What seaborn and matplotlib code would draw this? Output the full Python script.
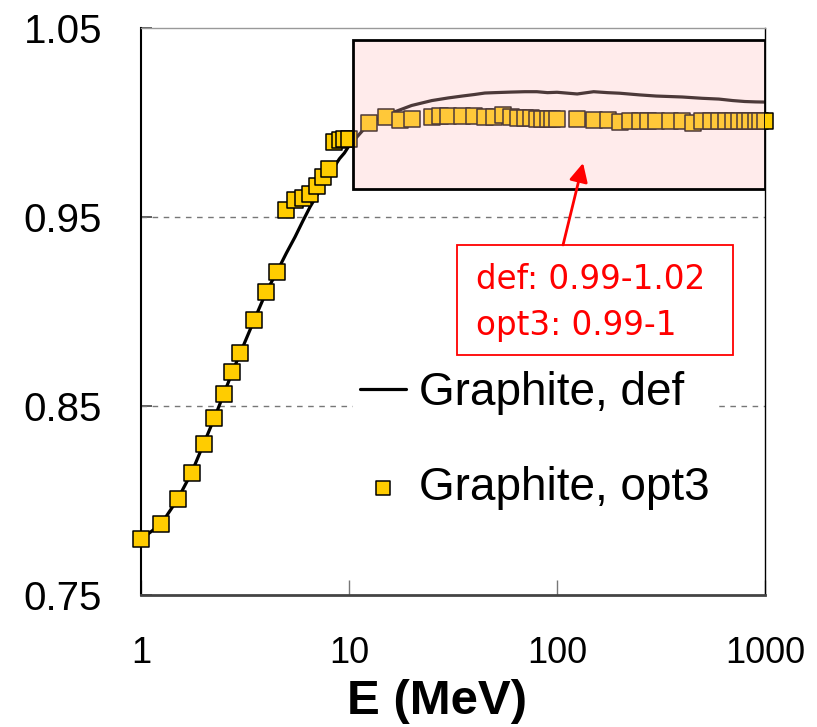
import matplotlib
matplotlib.use("Agg")
import matplotlib.pyplot as plt
import pandas as pd
import seaborn as sns
from matplotlib.patches import Rectangle
from matplotlib.ticker import FixedLocator, FixedFormatter, NullLocator

sns.set_style("white")
plt.rcParams["font.family"] = ["Liberation Sans", "DejaVu Sans"]
plt.rcParams["text.color"] = "black"
plt.rcParams["axes.labelcolor"] = "black"

# Graphite, default physics list: ratio vs. beam energy (MeV)
energy_def = [1, 1.25, 1.5, 1.75, 2, 2.25, 2.5, 2.75, 3, 3.5, 4, 4.5, 5, 5.5, 6,
              6.5, 7, 7.5, 8, 8.5, 9, 9.5, 10, 12.5, 15, 17.5, 20, 25, 30, 35,
              40, 45, 50, 60, 70, 80, 90, 100, 125, 150, 175, 200, 250, 300,
              400, 500, 600, 700, 800, 900, 1000]
ratio_def = [0.7793, 0.7874, 0.8005, 0.8146, 0.8298, 0.8434, 0.8563, 0.868,
             0.878, 0.8955, 0.9104, 0.921, 0.931, 0.9395, 0.948, 0.9555,
             0.9615, 0.967, 0.972, 0.9768, 0.981, 0.984, 0.9878, 0.9998,
             1.004, 1.0068, 1.0092, 1.0118, 1.0132, 1.0142, 1.015, 1.0158,
             1.016, 1.0163, 1.0165, 1.0165, 1.016, 1.0162, 1.0153, 1.0165,
             1.016, 1.0157, 1.0148, 1.0142, 1.0137, 1.013, 1.0126, 1.0118,
             1.0113, 1.0111, 1.011]

# Graphite, opt3 physics list
energy_opt3 = [1, 1.25, 1.5, 1.75, 2, 2.25, 2.5, 2.75, 3, 3.5, 4, 4.5, 5, 5.5,
               6, 6.5, 7, 7.5, 8, 8.5, 9, 9.5, 10, 12.5, 15, 17.5, 20, 25,
               27.5, 30, 35, 40, 45, 50, 55, 60, 65, 70, 75, 80, 85, 90, 95,
               100, 125, 150, 175, 200, 225, 250, 275, 300, 350, 400, 450,
               500, 550, 600, 650, 700, 750, 800, 850, 900, 950, 1000]
ratio_opt3 = [0.7793, 0.7874, 0.8005, 0.8146, 0.8298, 0.8434, 0.8563, 0.868,
              0.878, 0.8955, 0.9104, 0.921, 0.9538, 0.9591, 0.96, 0.9625,
              0.9667, 0.9711, 0.9753, 0.99, 0.9909, 0.9913, 0.9913, 0.9998,
              1.0033, 1.0014, 1.0022, 1.0029, 1.0036, 1.0038, 1.0038, 1.0036,
              1.0031, 1.0031, 1.004, 1.0031, 1.0028, 1.0028, 1.0023, 1.002,
              1.002, 1.002, 1.002, 1.002, 1.0019, 1.0017, 1.0017, 1.0006,
              1.001, 1.001, 1.0011, 1.0011, 1.0011, 1.0011, 0.9998, 1.001,
              1.0011, 1.0008, 1.0008, 1.0008, 1.0008, 1.0008, 1.0008, 1.0008,
              1.0008, 1.0008]

y_ticks = [0.75, 0.85, 0.95, 1.05]
y_minor = [0.80, 0.90, 1.00]
x_ticks = [1, 10, 100, 1000]

df_def = pd.DataFrame({"E": energy_def, "ratio": ratio_def})
df_opt3 = pd.DataFrame({"E": energy_opt3, "ratio": ratio_opt3})

fig = plt.figure(figsize=(8.17, 7.27), dpi=100)
ax = fig.add_axes([0.1726, 0.1822, 0.7638, 0.7786])

sns.lineplot(data=df_def, x="E", y="ratio", ax=ax, color="black", lw=2.3,
             estimator=None, sort=False, label="Graphite, def", zorder=3)
sns.scatterplot(data=df_opt3, x="E", y="ratio", ax=ax, marker="s", s=125,
                color="#FFCC00", edgecolor="black", linewidth=1.1,
                label="Graphite, opt3", zorder=4, clip_on=False)

ax.set_xscale("log")
ax.set_xlim(1, 1000)
ax.set_ylim(0.75, 1.05)

ax.xaxis.set_major_locator(FixedLocator(x_ticks))
ax.xaxis.set_major_formatter(FixedFormatter([str(v) for v in x_ticks]))
ax.xaxis.set_minor_locator(NullLocator())
ax.yaxis.set_major_locator(FixedLocator(y_ticks))
ax.yaxis.set_major_formatter(FixedFormatter([f"{v:.2f}" for v in y_ticks]))
ax.yaxis.set_minor_locator(FixedLocator(y_minor))

ax.tick_params(axis="x", which="major", direction="in", length=11, width=1,
               color="#777777", labelcolor="black", labelsize=26, pad=30)
ax.tick_params(axis="y", which="major", direction="in", length=8, width=1.2,
               color="#444444", labelcolor="black", labelsize=29, pad=28)
ax.tick_params(axis="y", which="minor", direction="in", length=8, width=1,
               color="#888888")
ax.tick_params(left=True, bottom=True)

for yv in (0.85, 0.95):
    ax.axhline(yv, color="#777777", lw=1, ls=(0, (4, 4)), zorder=1)

ax.spines["top"].set_color("#999999")
ax.spines["top"].set_linewidth(1)
ax.spines["right"].set_color("black")
ax.spines["right"].set_linewidth(1)
ax.spines["left"].set_color("black")
ax.spines["left"].set_linewidth(1.5)
ax.spines["bottom"].set_color("#444444")
ax.spines["bottom"].set_linewidth(2)

ax.set_ylabel("")
ax.set_xlabel("E (MeV)", fontsize=35.5, fontweight="bold")
ax.xaxis.set_label_coords(0.475, -0.150)

# Highlighted high-energy plateau
ax.add_patch(Rectangle((10.45, 0.965), 1000 - 10.45, 1.0439 - 0.965,
                       facecolor=(1.0, 0.75, 0.75, 0.3), edgecolor="black",
                       lw=2, zorder=5))

# Range annotation
ax.add_patch(Rectangle((0.506, 0.4231), 0.443, 0.1944, transform=ax.transAxes,
                       facecolor="white", edgecolor="red", lw=1.3, zorder=7))
ax.text(0.5375, 0.5392, "def: 0.99-1.02", transform=ax.transAxes, color="red",
        fontsize=23.5, family="DejaVu Sans", ha="left", va="baseline", zorder=8)
ax.text(0.5375, 0.4585, "opt3: 0.99-1", transform=ax.transAxes, color="red",
        fontsize=23.5, family="DejaVu Sans", ha="left", va="baseline", zorder=8)
ax.annotate("", xy=(133.4, 0.9787), xytext=(106.9, 0.9353),
            arrowprops=dict(arrowstyle="-|>", color="red", lw=2,
                            mutation_scale=28, shrinkA=0, shrinkB=0),
            zorder=7)

handles, labels = ax.get_legend_handles_labels()
leg = ax.legend(handles, labels, loc="center left", bbox_to_anchor=(0.34, 0.272),
                frameon=True, fancybox=False, fontsize=33, handlelength=1.0,
                handletextpad=0.28, labelspacing=1.1, borderpad=0.15,
                borderaxespad=0.0, markerscale=0.9)
leg.get_frame().set_facecolor("white")
leg.get_frame().set_edgecolor("none")
leg.get_frame().set_alpha(1)
leg.set_zorder(6)

fig.savefig("out.png", dpi=100)
